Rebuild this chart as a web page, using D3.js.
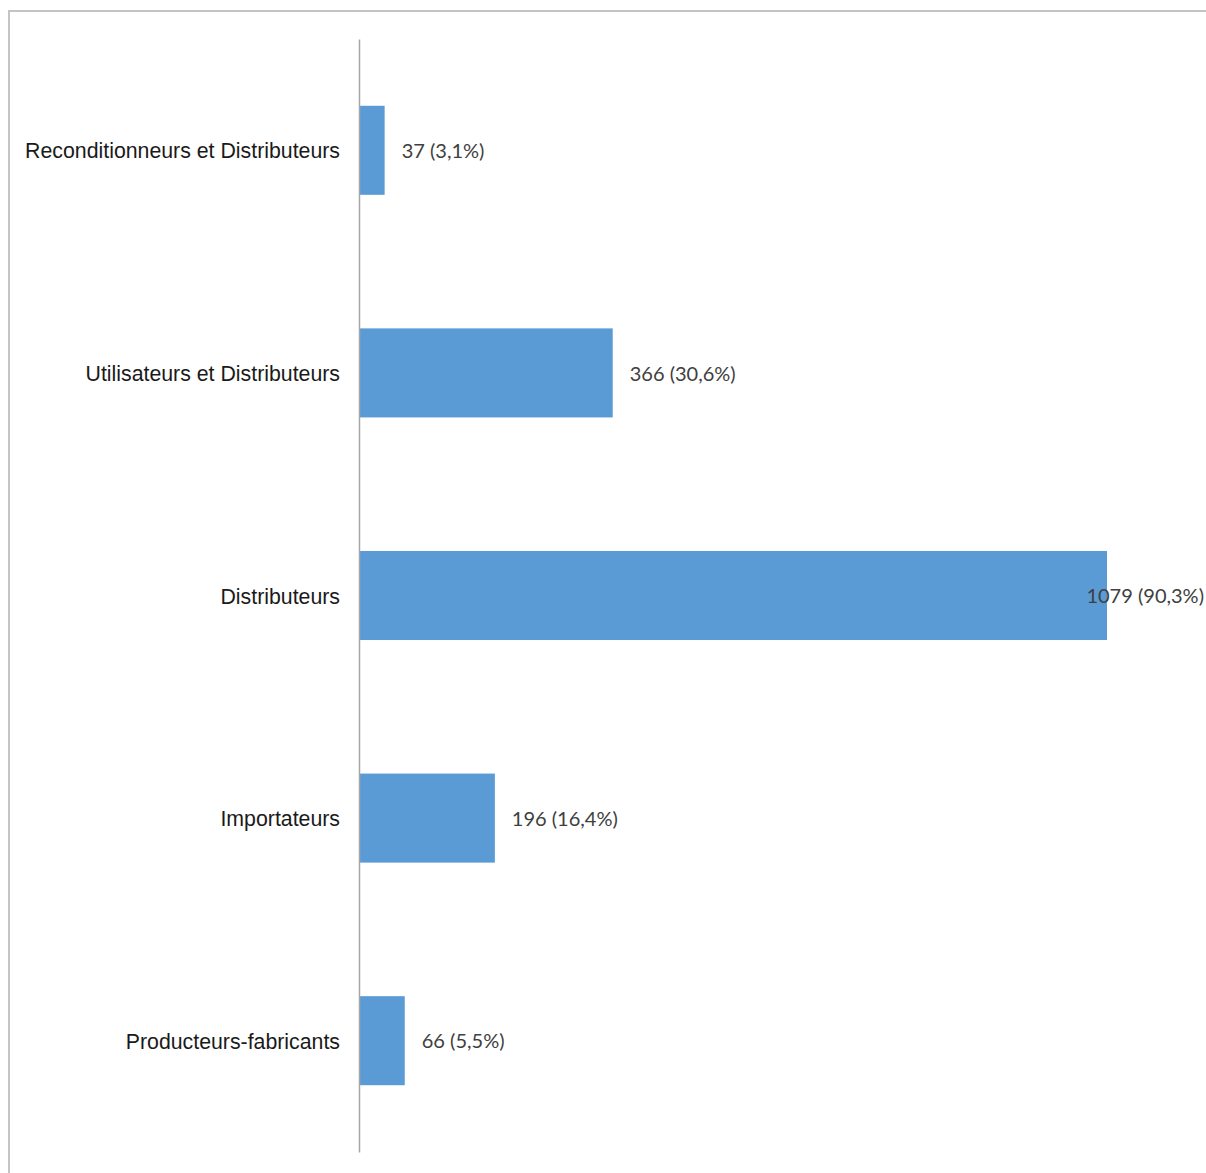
<!DOCTYPE html>
<html><head><meta charset="utf-8">
<script src="https://cdn.jsdelivr.net/npm/d3@7"></script>
<style>html,body{margin:0;padding:0;background:#fff;overflow:hidden}</style>
</head><body>
<script>
const categories = ["Reconditionneurs et Distributeurs","Utilisateurs et Distributeurs","Distributeurs","Importateurs","Producteurs-fabricants"];
const values = [37, 366, 1079, 196, 66];
const percents = ["3,1%","30,6%","90,3%","16,4%","5,5%"];

const W = 1206, H = 1173;
const svg = d3.select("body").append("svg").attr("width", W).attr("height", H);

// outer frame (left and top edges visible)
svg.append("path").attr("d", `M9,${H} L9,11 L${W},11`).attr("fill","none").attr("stroke","#c4c4c4").attr("stroke-width",2);

const x = d3.scaleLinear().domain([0, 1079]).range([359, 1107]);
const y = d3.scaleBand().domain(categories).range([39, 1152]).paddingInner(0.6).paddingOuter(0.3);

svg.append("g").selectAll("rect").data(categories).join("rect")
  .attr("x", x(0)).attr("y", d => y(d))
  .attr("width", (d,i) => x(values[i]) - x(0))
  .attr("height", y.bandwidth())
  .attr("fill", "#5B9BD5");

const axis = svg.append("g").attr("transform", `translate(${x(0)},0)`)
  .call(d3.axisLeft(y).tickSize(0).tickPadding(19));
axis.select(".domain").attr("stroke","#a6a6a6").attr("stroke-width",1.5);
axis.selectAll("text").attr("font-family","'Liberation Sans', Arial, sans-serif").attr("font-size",21.3).attr("fill","#1a1a1a").attr("dy","0.38em");

const labels = svg.append("g").selectAll("text").data(categories).join("text")
  .attr("x", (d,i) => x(values[i]) + 17)
  .attr("y", d => y(d) + y.bandwidth()/2)
  .attr("dy","0.38em")
  .attr("font-family","Lato, 'Open Sans', sans-serif").attr("font-size",20).attr("fill","#404040")
  .text((d,i) => `${values[i]} (${percents[i]})`);
// keep labels inside the chart: shift left any label that would run past the right edge
labels.each(function(d,i){
  const w = this.getComputedTextLength();
  const xi = x(values[i]) + 17;
  if (xi + w > W - 2) d3.select(this).attr("x", W - 2 - w);
});
</script>
</body></html>
